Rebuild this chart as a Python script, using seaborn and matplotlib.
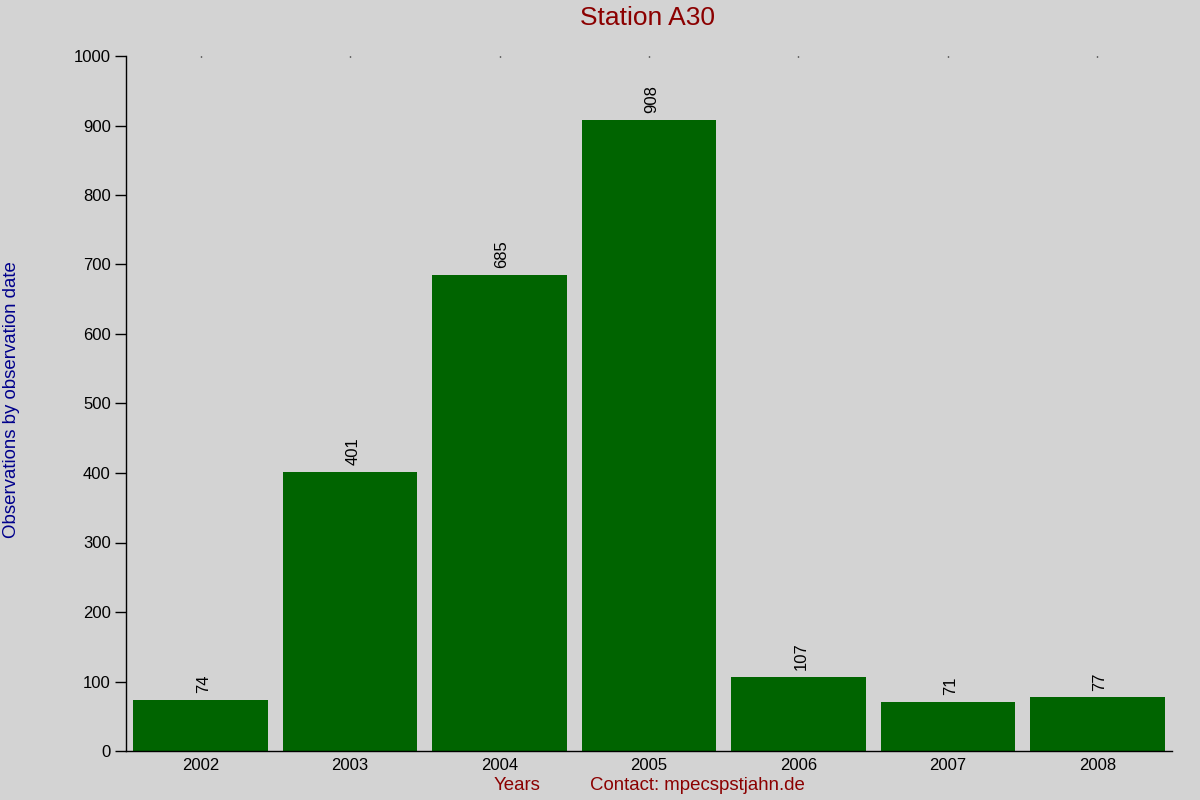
import matplotlib
matplotlib.use("Agg")
import matplotlib.pyplot as plt
import seaborn as sns
import pandas as pd

years = ["2002", "2003", "2004", "2005", "2006", "2007", "2008"]
counts = [74, 401, 685, 908, 107, 71, 77]

sns.set_theme(style="ticks")
plt.rcParams['font.family'] = ['Liberation Sans', 'DejaVu Sans']

bg = "#d3d3d3"
fig = plt.figure(figsize=(12, 8), dpi=100, facecolor=bg)
ax = fig.add_axes([0.105, 0.06125, 0.8717, 0.86875])
ax.set_facecolor(bg)

df = pd.DataFrame({"year": years, "count": counts})
sns.barplot(data=df, x="year", y="count", color="#006400", saturation=1,
            width=0.9, linewidth=0, edgecolor="none", ax=ax)

ax.set_xlim(-0.5, len(years) - 0.5)
ax.set_ylim(0, 1000)
ax.set_yticks(range(0, 1001, 100))
ax.set_xlabel("")
ax.set_ylabel("")

for s in ["top", "right"]:
    ax.spines[s].set_visible(False)
for s in ["left", "bottom"]:
    ax.spines[s].set_color("black")
    ax.spines[s].set_linewidth(1)

ax.tick_params(axis="y", length=8, width=1, color="black", labelsize=12,
               labelcolor="black", pad=3)
ax.tick_params(axis="x", bottom=False, top=True, length=1, width=1,
               color="black", labelsize=12, labelcolor="black", pad=5,
               direction="in")

for i, c in enumerate(counts):
    ax.annotate(str(c), (i, c), xytext=(1.8, 5), textcoords="offset points",
                rotation=90, ha="center", va="bottom", fontsize=12,
                color="black")

fig.text(0.54, 0.977, "Station A30", ha="center", va="center",
         fontsize=19, color="#8b0000")
fig.text(0.01, 0.5, "Observations by observation date", rotation=90,
         ha="center", va="center", fontsize=13.4, color="#00008b")
fig.text(0.431, 0.018, "Years", ha="center", va="center", fontsize=13.4,
         color="#8b0000")
fig.text(0.581, 0.018, "Contact: mpecspstjahn.de", ha="center", va="center",
         fontsize=13.4, color="#8b0000")

fig.savefig("out.png", dpi=100, facecolor=bg)
